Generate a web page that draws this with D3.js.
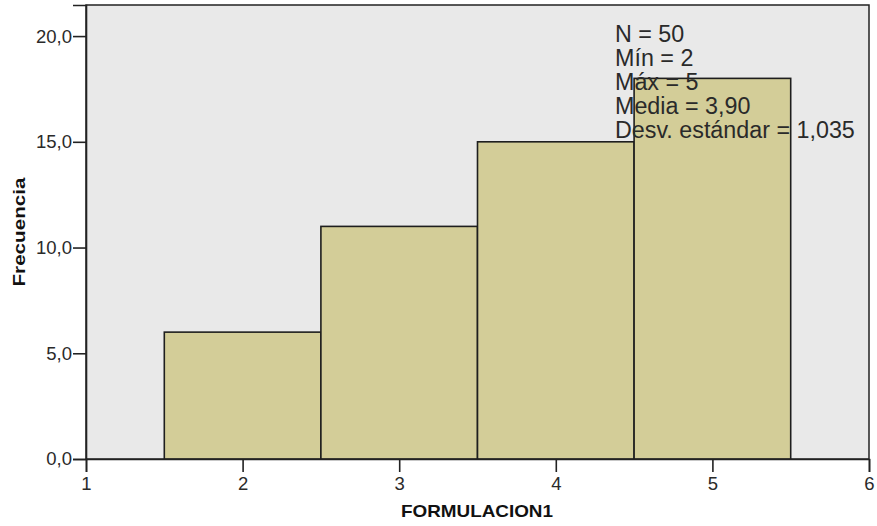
<!DOCTYPE html>
<html>
<head>
<meta charset="utf-8">
<script src="https://cdn.jsdelivr.net/npm/d3@7"></script>
<style>
  body { margin: 0; background: #ffffff; }
  svg { display: block; }
</style>
</head>
<body>
<svg id="chart" width="877" height="526"></svg>
<script>
// ---- data ----
const binStarts = [1.5, 2.5, 3.5, 4.5];
const binEnds   = [2.5, 3.5, 4.5, 5.5];
const counts    = [6, 11, 15, 18];
const xTicks    = [1, 2, 3, 4, 5, 6];
const yTicks    = [0, 5, 10, 15, 20];
const statsLines = ["N = 50", "Mín = 2", "Máx = 5", "Media = 3,90", "Desv. estándar = 1,035"];
const xTitle = "FORMULACION1";
const yTitle = "Frecuencia";

// ---- layout ----
const svg = d3.select("#chart");
const L = 86, R = 869, T = 5, B = 459;
const x = d3.scaleLinear().domain([1, 6]).range([L, R]);
const y = d3.scaleLinear().domain([0, 21.47]).range([B, T]);

// plot background
svg.append("rect")
  .attr("x", L).attr("y", T).attr("width", R - L).attr("height", B - T)
  .attr("fill", "#e9e9e9").attr("stroke", "#222").attr("stroke-width", 1.5);

// bars
svg.append("g").selectAll("rect").data(counts).join("rect")
  .attr("x", (d, i) => x(binStarts[i]))
  .attr("y", d => y(d))
  .attr("width", (d, i) => x(binEnds[i]) - x(binStarts[i]))
  .attr("height", d => B - y(d))
  .attr("fill", "#d3cd98")
  .attr("stroke", "#1e1e1e")
  .attr("stroke-width", 1.6);

// stats text
svg.append("g").selectAll("text").data(statsLines).join("text")
  .attr("x", 615)
  .attr("y", (d, i) => 42 + i * 24)
  .attr("font-family", "Liberation Sans, Arial, sans-serif")
  .attr("font-size", 23.3)
  .attr("fill", "#2a2a2a")
  .text(d => d);

const fmt = d => d3.format(".1f")(d).replace(".", ",");

// y axis
const yAxis = svg.append("g")
  .attr("transform", `translate(${L},0)`)
  .call(d3.axisLeft(y).tickValues(yTicks).tickSize(13).tickPadding(1).tickFormat(fmt));
// x axis
const xAxis = svg.append("g")
  .attr("transform", `translate(0,${B})`)
  .call(d3.axisBottom(x).tickValues(xTicks).tickSize(13).tickPadding(5).tickFormat(d3.format("d")));

[yAxis, xAxis].forEach(g => {
  g.select(".domain").attr("stroke", "#222").attr("stroke-width", 1.6);
  g.selectAll(".tick line").attr("stroke", "#222").attr("stroke-width", 1.6);
  g.selectAll(".tick text")
    .attr("font-family", "Liberation Sans, Arial, sans-serif")
    .attr("font-size", 18.5)
    .attr("fill", "#2a2a2a");
});

// axis titles
svg.append("text")
  .attr("x", 477).attr("y", 517)
  .attr("text-anchor", "middle")
  .attr("font-family", "Liberation Sans, Arial, sans-serif")
  .attr("font-weight", "bold")
  .attr("font-size", 17)
  .attr("textLength", 152)
  .attr("lengthAdjust", "spacingAndGlyphs")
  .attr("fill", "#111")
  .text(xTitle);

svg.append("text")
  .attr("transform", "translate(25,232) rotate(-90)")
  .attr("text-anchor", "middle")
  .attr("font-family", "Liberation Sans, Arial, sans-serif")
  .attr("font-weight", "bold")
  .attr("font-size", 17)
  .attr("textLength", 109)
  .attr("lengthAdjust", "spacingAndGlyphs")
  .attr("fill", "#111")
  .text(yTitle);
</script>
</body>
</html>
